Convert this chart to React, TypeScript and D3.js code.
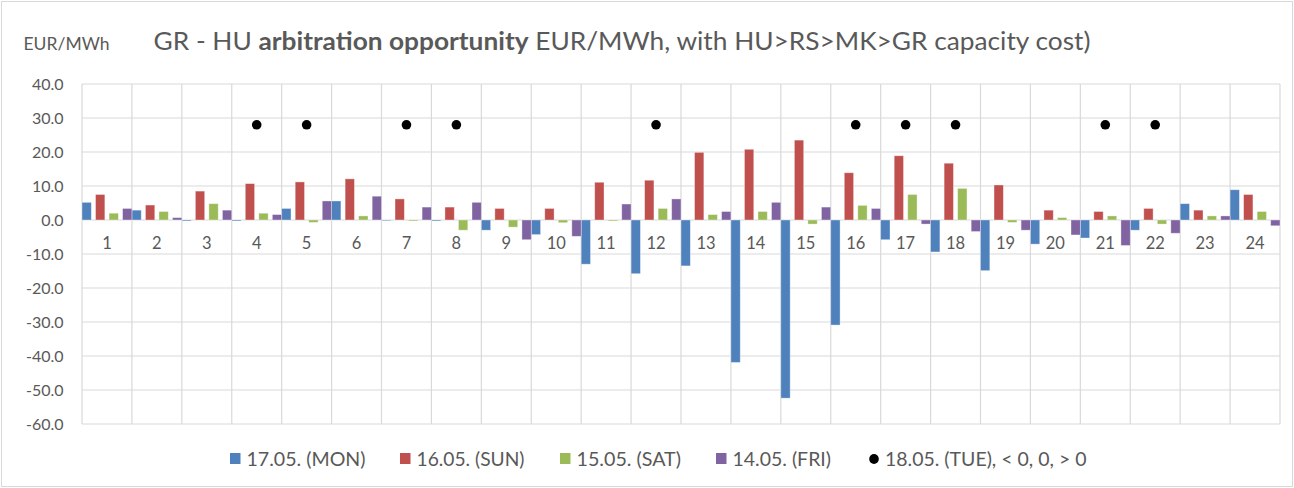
import React from "react";
import * as d3 from "d3";

const hours = Array.from({ length: 24 }, (_, i) => String(i + 1));
const seriesNames = ["17.05. (MON)", "16.05. (SUN)", "15.05. (SAT)", "14.05. (FRI)"];
const colors = ["#4f81bd", "#c0504d", "#9bbb59", "#8064a2"];

const mon = [5.2, 2.9, -0.3, -0.3, 3.4, 5.6, -0.2, -0.3, -3.0, -4.3, -13.0, -15.8, -13.5, -41.9, -52.4, -30.9, -5.8, -9.4, -14.9, -7.1, -5.3, -3.0, 4.8, 8.9];
const sun = [7.5, 4.4, 8.5, 10.7, 11.2, 12.1, 6.2, 3.8, 3.4, 3.4, 11.1, 11.7, 19.9, 20.8, 23.5, 13.9, 18.9, 16.7, 10.3, 2.9, 2.5, 3.4, 2.9, 7.5];
const sat = [2.0, 2.5, 4.8, 2.0, -0.7, 1.2, -0.3, -3.0, -2.1, -0.8, -0.3, 3.4, 1.6, 2.5, -1.2, 4.3, 7.5, 9.3, -0.7, 0.7, 1.2, -1.2, 1.2, 2.5];
const fri = [3.4, 0.7, 2.9, 1.6, 5.6, 7.0, 3.8, 5.2, -5.8, -4.8, 4.7, 6.2, 2.5, 5.2, 3.8, 3.4, -1.2, -3.4, -3.0, -4.4, -7.5, -3.9, 1.2, -1.7];
const tueHours = ["4", "5", "7", "8", "12", "16", "17", "18", "21", "22"];
const tueValue = 28;
const tueLabel = "18.05. (TUE), < 0, 0, > 0";
const yTicks = [40, 30, 20, 10, 0, -10, -20, -30, -40, -50, -60];

const allSeries = [mon, sun, sat, fri];

const W = 1294;
const H = 488;
const FONT = "Lato, 'Open Sans', sans-serif";
const TXT = "#595959";

export default function App() {
  const x = d3.scaleBand<string>().domain(hours).range([82, 1280]).padding(0);
  const y = d3.scaleLinear().domain([-60, 40]).range([424, 84]);
  const inner = d3
    .scaleBand<number>()
    .domain([0, 1, 2, 3])
    .range([0, x.bandwidth()])
    .paddingInner(0.3103)
    .paddingOuter(0);

  const legendItems = [
    { x: 230, w: 119, label: seriesNames[0], color: colors[0] },
    { x: 400, w: 108, label: seriesNames[1], color: colors[1] },
    { x: 560, w: 104.5, label: seriesNames[2], color: colors[2] },
    { x: 716, w: 98.5, label: seriesNames[3], color: colors[3] },
  ];

  return (
    <div style={{ position: "absolute", left: 0, top: 0 }}>
      <svg width={W} height={H} style={{ display: "block", fontFamily: FONT }}>
        <rect x={0} y={0} width={W} height={H} fill="#fff" />
        <rect x={1.5} y={1.5} width={W - 3} height={H - 3} fill="none" stroke="#d9d9d9" strokeWidth={1} />

        {/* header */}
        <text x={23.5} y={49.5} fontSize={17.5} fill={TXT} textLength={86} lengthAdjust="spacingAndGlyphs">EUR/MWh</text>
        <text x={153.5} y={50} fontSize={25.5} fill={TXT} textLength={937} lengthAdjust="spacingAndGlyphs">
          GR - HU <tspan fontWeight="bold">arbitration opportunity</tspan> EUR/MWh, with HU&gt;RS&gt;MK&gt;GR capacity cost)
        </text>

        {/* gridlines */}
        {yTicks.map((t) => (
          <line key={"h" + t} x1={82} x2={1280} y1={y(t)} y2={y(t)} stroke="#d9d9d9" strokeWidth={1.2} />
        ))}
        {hours.map((h) => (
          <line key={"v" + h} x1={x(h)!} x2={x(h)!} y1={84} y2={424} stroke="#d9d9d9" strokeWidth={1.2} />
        ))}
        <line x1={1280} x2={1280} y1={84} y2={424} stroke="#d9d9d9" strokeWidth={1.2} />

        {/* y tick labels */}
        {yTicks.map((t) => (
          <text key={"yl" + t} x={63.5} y={y(t)} dy="0.36em" textAnchor="end" fontSize={16} fill={TXT}>
            {t.toFixed(1)}
          </text>
        ))}

        {/* category labels */}
        {hours.map((h) => (
          <text key={"xl" + h} x={x(h)! + x.bandwidth() / 2} y={243} dy="0.36em" textAnchor="middle" fontSize={16.5} fill={TXT}>
            {h}
          </text>
        ))}

        {/* bars */}
        {allSeries.map((vals, si) =>
          vals.map((v, i) => {
            const h = hours[i];
            const bx = x(h)! + inner(si)!;
            const y0 = y(Math.max(0, v));
            const y1 = y(Math.min(0, v));
            return (
              <rect
                key={si + "-" + i}
                x={bx}
                y={y0}
                width={inner.bandwidth()}
                height={Math.max(0.8, y1 - y0)}
                fill={colors[si]}
                stroke="#ffffff"
                strokeOpacity={0.45}
                strokeWidth={0.8}
              />
            );
          })
        )}

        {/* dots */}
        {tueHours.map((h) => (
          <circle key={"d" + h} cx={x(h)! + x.bandwidth() / 2} cy={y(tueValue)} r={4.8} fill="#000" />
        ))}

        {/* legend */}
        {legendItems.map((it) => (
          <g key={it.label}>
            <rect x={it.x} y={453} width={10.5} height={11} fill={it.color} />
            <text x={it.x + 16.5} y={466} fontSize={19} fill={TXT} textLength={it.w} lengthAdjust="spacingAndGlyphs">{it.label}</text>
          </g>
        ))}
        <ellipse cx={874} cy={459} rx={4.8} ry={5} fill="#000" />
        <text x={885} y={466} fontSize={19} fill={TXT} textLength={201.5} lengthAdjust="spacingAndGlyphs">{tueLabel}</text>
      </svg>
    </div>
  );
}
